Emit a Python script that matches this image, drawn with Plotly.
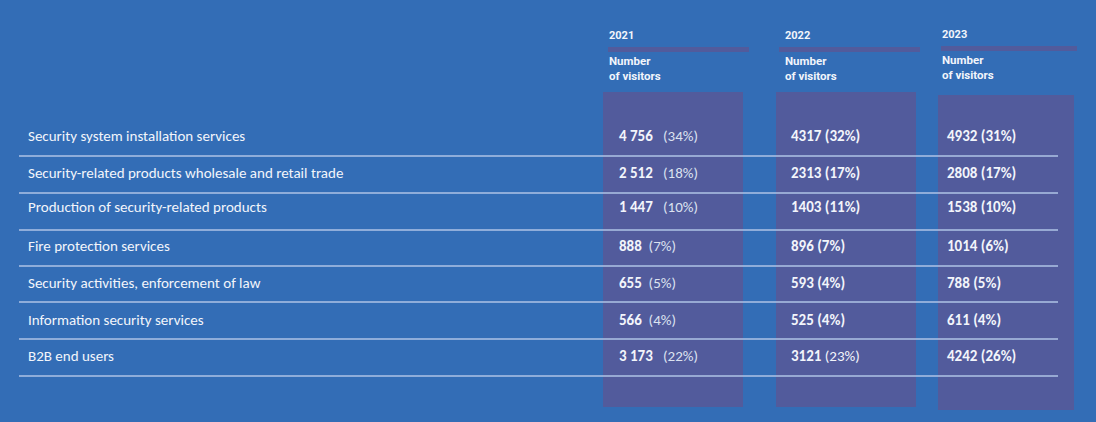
import plotly.graph_objects as go

categories = [
    "Security system installation services",
    "Security-related products wholesale and retail trade",
    "Production of security-related products",
    "Fire protection services",
    "Security activities, enforcement of law",
    "Information security services",
    "B2B end users",
]
years = ["2021", "2022", "2023"]
v2021 = [4756, 2512, 1447, 888, 655, 566, 3173]
p2021 = [34, 18, 10, 7, 5, 4, 22]
v2022 = [4317, 2313, 1403, 896, 593, 525, 3121]
p2022 = [32, 17, 11, 7, 4, 4, 23]
v2023 = [4932, 2808, 1538, 1014, 788, 611, 4242]
p2023 = [31, 17, 10, 6, 5, 4, 26]

BG = "#336DB6"
COL = "#525B9C"
LINE = "#AFC3E6"
TXT = "#F2F5FB"

W, H = 1096, 422
fig = go.Figure()
fig.update_layout(
    width=W, height=H, margin=dict(l=0, r=0, t=0, b=0),
    paper_bgcolor=BG, plot_bgcolor=BG, showlegend=False,
    xaxis=dict(range=[0, W], visible=False, fixedrange=True),
    yaxis=dict(range=[H, 0], visible=False, fixedrange=True),
)

col_x = [(603, 743), (776, 916), (938, 1074)]
col_y = [(92, 407), (92, 407), (95, 410)]
bar_x = [(608, 749), (779, 920), (941, 1077)]
bar_y = [(47, 52), (47, 52), (46, 51)]
year_pos = [(607, 35), (783, 35), (940, 34)]
sub_pos = [(607, 68), (783, 68), (940, 67)]
val_x = [617, 789, 945]

shapes = []
for i in range(3):
    shapes.append(dict(type="rect", x0=col_x[i][0], x1=col_x[i][1], y0=col_y[i][0], y1=col_y[i][1],
                       fillcolor=COL, line=dict(width=0), layer="below"))
    shapes.append(dict(type="rect", x0=bar_x[i][0], x1=bar_x[i][1], y0=bar_y[i][0], y1=bar_y[i][1],
                       fillcolor=COL, line=dict(width=0), layer="below"))

row_y = [136, 173, 207, 246, 283, 320, 356]
line_y = [156, 193, 230, 266, 302, 339, 376]
for ly in line_y:
    shapes.append(dict(type="line", x0=19, x1=1058, y0=ly, y1=ly, line=dict(color=LINE, width=1.5)))
fig.update_layout(shapes=shapes)

ann = []
HF = "Roboto"
for i, y in enumerate(years):
    ann.append(dict(x=year_pos[i][0], y=year_pos[i][1], text="<b>%s</b>" % y, showarrow=False,
                    xanchor="left", yanchor="middle", font=dict(family=HF, size=11, color=TXT)))
    ann.append(dict(x=sub_pos[i][0], y=sub_pos[i][1], text="<b>Number<br>of visitors</b>", showarrow=False,
                    xanchor="left", yanchor="middle", align="left",
                    font=dict(family=HF, size=11.5, color=TXT)))

LF = "Carlito, Lato, Open Sans, sans-serif"
FS = 15
for r, cat in enumerate(categories):
    ann.append(dict(x=26, y=row_y[r], text=cat, showarrow=False, xanchor="left", yanchor="middle",
                    font=dict(family=LF, size=FS, color=TXT)))
    # 2021
    n = f"{v2021[r]:,}".replace(",", " ")
    gap = "&nbsp;&nbsp;&nbsp;" if v2021[r] >= 1000 else "&nbsp;&nbsp;"
    t1 = f"<b>{n}</b>{gap}<span style='color:#DCE2F0'>({p2021[r]}%)</span>"
    ann.append(dict(x=val_x[0], y=row_y[r], text=t1, showarrow=False, xanchor="left", yanchor="middle",
                    font=dict(family=LF, size=FS, color=TXT)))
    # 2022
    if r == len(categories) - 1:
        t2 = f"<b>{v2022[r]}</b> ({p2022[r]}%)"
    else:
        t2 = f"<b>{v2022[r]} ({p2022[r]}%)</b>"
    ann.append(dict(x=val_x[1], y=row_y[r], text=t2, showarrow=False, xanchor="left", yanchor="middle",
                    font=dict(family=LF, size=FS, color=TXT)))
    # 2023
    t3 = f"<b>{v2023[r]} ({p2023[r]}%)</b>"
    ann.append(dict(x=val_x[2], y=row_y[r], text=t3, showarrow=False, xanchor="left", yanchor="middle",
                    font=dict(family=LF, size=FS, color=TXT)))

fig.update_layout(annotations=ann)
fig.write_html("out.html", config=dict(displayModeBar=False),
               post_script="document.body.style.margin='0';document.body.style.background='%s';" % BG)
